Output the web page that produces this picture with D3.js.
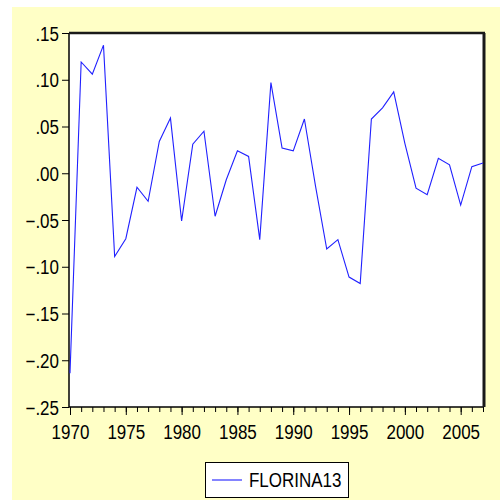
<!DOCTYPE html>
<html>
<head>
<meta charset="utf-8">
<style>
body { margin: 0; background: #fff; }
svg text { font-family: Arial, 'Liberation Sans', sans-serif; fill: #000; }
.axis .domain { display: none; }
.axis line { stroke: #000; }
</style>
</head>
<body>
<svg id="chart" width="500" height="503"></svg>

<script src="https://cdn.jsdelivr.net/npm/d3@7"></script>
<script>

// yearly values of FLORINA13
const years = d3.range(1970, 2008);
const florina13 = [
    -0.214, 0.119, 0.106, 0.137, -0.089, -0.070, -0.015, -0.030, 0.034, 0.059,
    -0.051, 0.031, 0.045, -0.046, -0.007, 0.024, 0.018, -0.071, 0.097, 0.027,
    0.024, 0.058, -0.014, -0.081, -0.071, -0.111, -0.118, 0.058, 0.070, 0.087,
    0.032, -0.016, -0.023, 0.016, 0.009, -0.034, 0.007, 0.011
];
const yTicks = [-0.25, -0.20, -0.15, -0.10, -0.05, 0.00, 0.05, 0.10, 0.15];
const xMajor = [1970, 1975, 1980, 1985, 1990, 1995, 2000, 2005];
const seriesName = 'FLORINA13';

const stretch = 1.15; // text in the picture is a bit taller than plain Arial

const svg = d3.select('#chart');

const margin = {top: 33, right: 16, bottom: 96, left: 69};
const width = 500 - margin.left - margin.right,
      height = 503 - margin.top - margin.bottom;

// pale yellow backdrop
svg.append('rect')
    .attr('x', 12).attr('y', 7)
    .attr('width', 488).attr('height', 493)
    .attr('fill', '#ffffc6');

const g = svg.append('g')
    .attr('transform', 'translate(' + margin.left + ',' + margin.top + ')');

const x = d3.scaleLinear()
    .domain([1970, 2007])
    .range([1, width - 1]);

const y = d3.scaleLinear()
    .domain([-0.25, 0.15])
    .range([height, 0]);

g.append('rect')
    .attr('width', width).attr('height', height)
    .attr('fill', '#fff');

const fmt = d => d === 0 ? '.00' : d3.format('.2f')(d).replace('0.', '.');

// y axis
const yAxis = d3.axisLeft(y)
    .tickValues(yTicks)
    .tickSize(7)
    .tickPadding(3)
    .tickFormat(fmt);

g.append('g')
    .attr('class', 'axis')
    .call(yAxis)
    .call(a => a.selectAll('text')
        .attr('font-size', 17)
        .attr('dy', '0.36em')
        .attr('transform', 'scale(1,' + stretch + ')'));

// x axis: minor every year, major every 5
g.append('g')
    .attr('class', 'axis')
    .attr('transform', 'translate(0,' + height + ')')
    .call(d3.axisBottom(x).tickValues(years).tickSize(5).tickFormat(''));

g.append('g')
    .attr('class', 'axis')
    .attr('transform', 'translate(0,' + height + ')')
    .call(d3.axisBottom(x).tickValues(xMajor).tickSize(8).tickFormat(d3.format('d')))
    .call(a => a.selectAll('text')
        .attr('font-size', 17)
        .attr('y', 16)
        .attr('transform', 'scale(1,' + stretch + ')'));

// frame
g.append('line').attr('x1', 0).attr('x2', 0).attr('y1', 0).attr('y2', height)
    .attr('stroke', '#000').attr('stroke-width', 1.5);
g.append('line').attr('x1', 0).attr('x2', width).attr('y1', height).attr('y2', height)
    .attr('stroke', '#000').attr('stroke-width', 1.5);
g.append('line').attr('x1', 0).attr('x2', width + 1).attr('y1', 0).attr('y2', 0)
    .attr('stroke', '#1a1a1a').attr('stroke-width', 2.5);
g.append('line').attr('x1', width).attr('x2', width).attr('y1', 0).attr('y2', height)
    .attr('stroke', '#1a1a1a').attr('stroke-width', 3);

// series
const line = d3.line()
    .x((d, i) => x(years[i]))
    .y(d => y(d));

g.append('path')
    .datum(florina13)
    .attr('fill', 'none')
    .attr('stroke', '#2020ff')
    .attr('stroke-width', 1.1)
    .attr('d', line);

// legend
const legend = svg.append('g').attr('transform', 'translate(205,462)');
legend.append('rect')
    .attr('x', 0.5).attr('y', 0.5)
    .attr('width', 143).attr('height', 35)
    .attr('fill', '#fff').attr('stroke', '#000');
legend.append('line')
    .attr('x1', 7).attr('x2', 37).attr('y1', 18).attr('y2', 18)
    .attr('stroke', '#2020ff').attr('stroke-width', 1.1);
legend.append('text')
    .attr('transform', 'translate(44,25) scale(1,' + stretch + ')')
    .attr('font-size', 17)
    .text(seriesName);

</script>
</body>
</html>
